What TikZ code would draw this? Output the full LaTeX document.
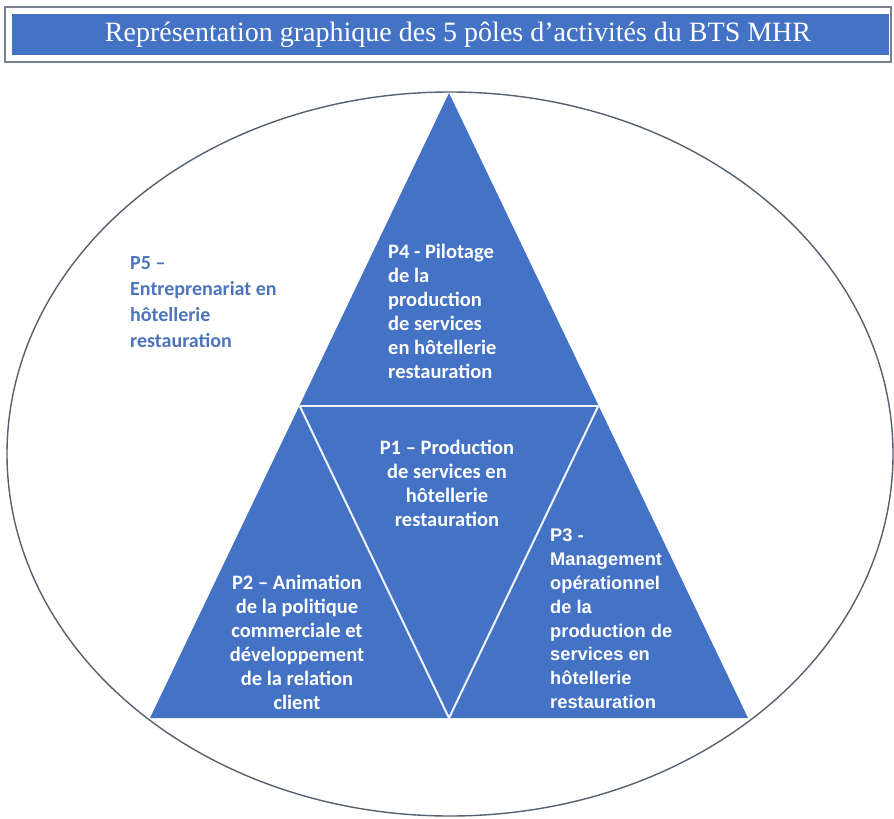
\documentclass[tikz,border=0pt]{standalone}
\usepackage{fontspec}
\setmainfont{Liberation Serif}
\newfontfamily\calibri{Carlito}
\newfontfamily\arialfont{Liberation Sans}
\usepackage{xcolor}
\usetikzlibrary{positioning}

\definecolor{poleblue}{HTML}{4472C4}
\definecolor{rimgray}{HTML}{56606E}

\begin{document}
\begin{tikzpicture}[x=1pt, y=-1pt,
  poletext/.style={text=white, font=\calibri\bfseries\fontsize{20.5}{24}\selectfont, inner sep=0pt},
  sep/.style={draw=white!92!poleblue, line width=2pt}
]
  \useasboundingbox (0,0) rectangle (894,819);

  % title bar
  \draw[rimgray!80, line width=1.5pt] (5,7) rectangle (891,62);
  \fill[poleblue] (12,14) rectangle (889,55);
  \node[text=white, font=\fontsize{28}{32}\selectfont, inner sep=0pt] (title) at (458,35)
    {Représentation graphique des 5 pôles d’activités du BTS MHR};

  % outer ellipse
  \draw[rimgray, line width=1.4pt] (450,454) ellipse [x radius=443, y radius=362];

  % triangle
  \coordinate (apex) at (449,93);
  \coordinate (baseL) at (150,718);
  \coordinate (baseR) at (748,718);
  \coordinate (midL) at (299.5,405.5);
  \coordinate (midR) at (598.5,405.5);
  \coordinate (baseM) at (449,718);
  \fill[poleblue] (apex) -- (baseL) -- (baseR) -- cycle;
  \draw[sep] (midL) -- (midR);
  \draw[sep] (midL) -- (baseM) -- (midR);

  % texts
  \node[poletext, align=left, anchor=north west] (p4) at (388,244)
    {P4 - Pilotage\\de la\\production\\de services\\en hôtellerie\\restauration};
  \node[poletext, align=center, anchor=north] (p1) at (447,439.5)
    {P1 – Production\\de services en\\hôtellerie\\restauration};
  \node[poletext, align=center, anchor=north] (p2) at (297,574.5)
    {P2 – Animation\\de la politique\\commerciale et\\développement\\de la relation\\client};
  \node[poletext, font=\arialfont\bfseries\fontsize{18.3}{23.8}\selectfont, align=left, anchor=north west] (p3) at (550,529)
    {P3 -\\Management\\opérationnel\\de la\\production de\\services en\\hôtellerie\\restauration};
  \node[poletext, text=poleblue!85!gray, font=\calibri\bfseries\fontsize{20}{26}\selectfont, align=left, anchor=north west] (p5) at (130,256.5)
    {P5 –\\Entreprenariat en\\hôtellerie\\restauration};
\end{tikzpicture}
\end{document}
